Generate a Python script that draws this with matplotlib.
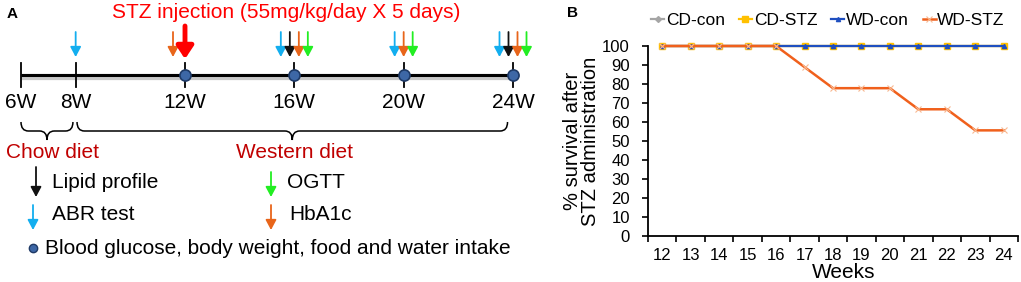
import numpy as np
import matplotlib
matplotlib.use("Agg")
import matplotlib.pyplot as plt
from matplotlib.path import Path
from matplotlib.patches import PathPatch

plt.rcParams['font.family'] = ['Liberation Sans', 'DejaVu Sans']

# ---- panel A: study timeline ----
visit_weeks = [6, 8, 12, 16, 20, 24]
visit_labels = ['6W', '8W', '12W', '16W', '20W', '24W']
bg_weeks = [12, 16, 20, 24]          # blood glucose, body weight, food/water
abr_weeks = [8, 16, 20, 24]
lipid_weeks = [16, 24]
hba1c_weeks = [12, 16, 20, 24]
ogtt_weeks = [16, 20, 24]
stz_week = 12
chow_span = [6, 7.9]
western_span = [8.05, 23.8]

# ---- panel B: survival ----
weeks = [12, 13, 14, 15, 16, 17, 18, 19, 20, 21, 22, 23, 24]
cd_con = [100, 100, 100, 100, 100, 100, 100, 100, 100, 100, 100, 100, 100]
cd_stz = [100, 100, 100, 100, 100, 100, 100, 100, 100, 100, 100, 100, 100]
wd_con = [100, 100, 100, 100, 100, 100, 100, 100, 100, 100, 100, 100, 100]
wd_stz = [100, 100, 100, 100, 100, 88.9, 77.8, 77.8, 77.8, 66.7, 66.7, 55.6, 55.6]

C_ABR = '#13AEEF'
C_LIPID = '#111111'
C_HBA1C = '#E8651A'
C_OGTT = '#22EE22'
C_DIET = '#C00000'

W, H = 1021, 282
fig = plt.figure(figsize=(W / 100, H / 100), dpi=100)

# week axis: 6W sits at 21 px, 24W at 513 px
PX_PER_WK = (513 - 21) / 18.0
def wx(px):
    return 6 + (px - 21) / PX_PER_WK

axA = fig.add_axes([0, 0, 561 / W, 1])
axA.set_xlim(wx(0), wx(561))
axA.set_ylim(H, 0)
axA.axis('off')

LINE_Y = 75
# timeline with soft shadow
axA.plot([visit_weeks[0], visit_weeks[-1]], [LINE_Y + 2, LINE_Y + 2], color='#C8C8C8', lw=4.5,
         solid_capstyle='butt', zorder=1)
axA.plot([visit_weeks[0], visit_weeks[-1]], [LINE_Y, LINE_Y], color='black', lw=2.2,
         solid_capstyle='butt', zorder=2)
for wk, lab in zip(visit_weeks, visit_labels):
    axA.plot([wk, wk], [63, 87], color='black', lw=1.3, zorder=2)
    axA.text(wk, 103, lab, ha='center', va='center', fontsize=15)
axA.plot(bg_weeks, [LINE_Y] * len(bg_weeks), 'o', ms=8, mfc='#3D67A6', mec='#1F3A66',
         mew=1.2, zorder=3)

def arrow(ax, x, y0, y1, color, lw=1.3, hl=0.6, hw=0.32):
    ax.annotate('', xy=(x, y1), xytext=(x, y0),
                arrowprops=dict(arrowstyle='-|>,head_length=%s,head_width=%s' % (hl, hw),
                                color=color, lw=lw, shrinkA=0, shrinkB=0))

groups = [(abr_weeks, C_ABR), (lipid_weeks, C_LIPID), (hba1c_weeks, C_HBA1C), (ogtt_weeks, C_OGTT)]
step = 9 / PX_PER_WK
for wk in sorted(set(abr_weeks + lipid_weeks + hba1c_weeks + ogtt_weeks)):
    cols = [c for ws, c in groups if wk in ws]
    n = len(cols)
    for i, c in enumerate(cols):
        off = (i - (n - 1) / 2) * step
        if wk == stz_week:
            off -= 12 / PX_PER_WK
        arrow(axA, wk + off, 32, 57, c)
# STZ arrow
arrow(axA, stz_week, 26, 59, '#FF0000', lw=3.5, hl=0.75, hw=0.5)
axA.text(wx(286), 13, 'STZ injection (55mg/kg/day X 5 days)', color='#FF0000',
         ha='center', va='center', fontsize=15)

def brace(ax, x0, x1, y0=122, y1=131, y2=140, r=0.27):
    xm = (x0 + x1) / 2
    verts = [(x0, y0), (x0, y1), (x0 + r, y1), (xm - r, y1), (xm, y1), (xm, y2),
             (xm, y1), (xm + r, y1), (x1 - r, y1), (x1, y1), (x1, y0)]
    codes = [Path.MOVETO, Path.CURVE3, Path.CURVE3, Path.LINETO, Path.CURVE3, Path.CURVE3,
             Path.CURVE3, Path.CURVE3, Path.LINETO, Path.CURVE3, Path.CURVE3]
    ax.add_patch(PathPatch(Path(verts, codes), fill=False, lw=1.1, color='black'))
    return xm

brace(axA, *chow_span)
brace(axA, *western_span)
axA.text(wx(52), 152, 'Chow diet', color=C_DIET, ha='center', va='center', fontsize=15)
axA.text(wx(294), 152, 'Western diet', color=C_DIET, ha='center', va='center', fontsize=15)

# key
arrow(axA, wx(36), 167, 197, C_LIPID)
axA.text(wx(52), 182, 'Lipid profile', ha='left', va='center', fontsize=15)
arrow(axA, wx(33), 205, 230, C_ABR)
axA.text(wx(52), 215, 'ABR test', ha='left', va='center', fontsize=15)
arrow(axA, wx(271), 172, 197, C_OGTT)
axA.text(wx(287), 182, 'OGTT', ha='left', va='center', fontsize=15)
arrow(axA, wx(271), 205, 230, C_HBA1C)
axA.text(wx(289), 215, 'HbA1c', ha='left', va='center', fontsize=15)
axA.plot([wx(33)], [248], 'o', ms=6, mfc='#3D67A6', mec='#1F3A66', mew=1)
axA.text(wx(45), 248, 'Blood glucose, body weight, food and water intake', ha='left',
         va='center', fontsize=15)

fig.text(7 / W, 1 - 14 / H, 'A', fontsize=11, fontweight='bold', va='center')
fig.text(567 / W, 1 - 13 / H, 'B', fontsize=11, fontweight='bold', va='center')

# ---- panel B ----
axB = fig.add_axes([648 / W, 46 / H, 370 / W, 190 / H])
x = np.arange(len(weeks))
axB.plot(x, cd_con, color='#A5A5A5', lw=1.6, marker='D', ms=3, label='CD-con', clip_on=False)
axB.plot(x, cd_stz, color='#FFC000', lw=1.6, marker='s', ms=4, label='CD-STZ', clip_on=False)
axB.plot(x, wd_con, color='#1F4FC0', lw=1.6, marker='^', ms=3, label='WD-con', clip_on=False)
axB.plot(x, wd_stz, color='#F0601C', lw=1.8, marker='x', ms=4, mec='#F8B890', mew=0.8,
         label='WD-STZ', clip_on=False)

axB.set_xlim(-0.5, len(weeks) - 0.5)
axB.set_ylim(0, 100)
axB.set_yticks(np.arange(0, 101, 10))
axB.set_xticks(np.arange(-0.5, len(weeks), 1))
axB.set_xticklabels([])
axB.set_xticks(x, minor=True)
axB.set_xticklabels([str(w) for w in weeks], minor=True)
axB.tick_params(axis='x', which='major', length=4, width=1.2, direction='out')
axB.tick_params(axis='x', which='minor', length=0, pad=9, labelsize=12)
axB.tick_params(axis='y', length=4, width=1.2, direction='out', pad=9, labelsize=12)
for s in ['top', 'right']:
    axB.spines[s].set_visible(False)
for s in ['left', 'bottom']:
    axB.spines[s].set_linewidth(1.3)
axB.set_ylabel('% survival after\nSTZ administration', fontsize=14.5, linespacing=0.95)
axB.yaxis.set_label_coords(-0.13, 0.5)
axB.set_xlabel('Weeks', fontsize=15)
axB.xaxis.set_label_coords((844 - 648) / 370, -0.14)

fig.legend(loc='center', bbox_to_anchor=(828 / W, 1 - 20 / H), ncol=4, frameon=False,
           fontsize=12.5, handlelength=0.75, handletextpad=0.1, columnspacing=0.8,
           borderaxespad=0, borderpad=0)

fig.savefig('out.png', dpi=100)
